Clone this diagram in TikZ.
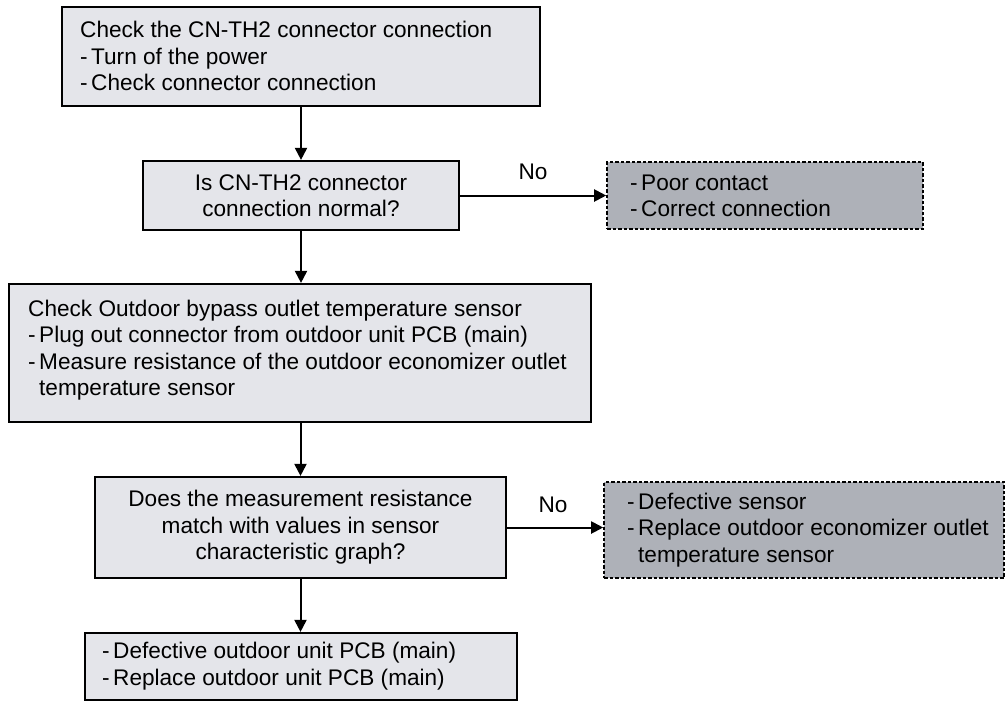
\documentclass[tikz,border=0pt]{standalone}
\usepackage{fontspec}
\setmainfont{Liberation Sans}
\usetikzlibrary{arrows.meta}
\definecolor{lightfill}{RGB}{228,229,234}
\definecolor{darkfill}{RGB}{174,177,184}
\newcommand{\dsh}{\makebox[11pt][l]{-}}
\newcommand{\ind}{\hspace*{11pt}}
\tikzset{
  base/.style={draw=black, line width=2.2pt, inner sep=0pt, font=\fontsize{22.6}{26.5}\selectfont},
  procbox/.style={base, fill=lightfill},
  resultbox/.style={base, fill=darkfill, line width=1.6pt, dash pattern=on 3.5pt off 2pt},
  arr/.style={line width=2pt, -{Triangle[length=12pt,width=12pt]}},
  lbl/.style={font=\fontsize{22.6}{26.5}\selectfont, inner sep=0pt}
}
\begin{document}
\begin{tikzpicture}[x=1pt,y=-1pt]
\useasboundingbox (0,0) rectangle (1008,702);
\node[procbox, minimum width=478pt, minimum height=99pt] (b1) at (301,56.5) {};
\node[lbl, align=left, anchor=west] (t1) at (80,56) {Check the CN-TH2 connector connection\\\dsh Turn of the power\\\dsh Check connector connection};
\node[procbox, minimum width=316pt, minimum height=69pt, align=center] (b2) at (301,195.5) {Is CN-TH2 connector\\connection normal?};
\node[resultbox, minimum width=316pt, minimum height=67pt] (b3) at (765,195.5) {};
\node[lbl, align=left, anchor=west] (t3) at (630,196) {\dsh Poor contact\\\dsh Correct connection};
\node[procbox, minimum width=582pt, minimum height=138pt] (b4) at (300,353) {};
\node[lbl, align=left, anchor=west] (t4) at (28,350) {Check Outdoor bypass outlet temperature sensor\\\dsh Plug out connector from outdoor unit PCB (main)\\\dsh Measure resistance of the outdoor economizer outlet\\\ind temperature sensor};
\node[procbox, minimum width=411pt, minimum height=101pt, align=center] (b5) at (300.5,527.5) {Does the measurement resistance\\match with values in sensor\\characteristic graph?};
\node[resultbox, minimum width=400pt, minimum height=96pt] (b7) at (804,530) {};
\node[lbl, align=left, anchor=west] (t7) at (627,530) {\dsh Defective sensor\\\dsh Replace outdoor economizer outlet\\\ind temperature sensor};
\node[procbox, minimum width=432pt, minimum height=67pt] (b6) at (301,666.5) {};
\node[lbl, align=left, anchor=west] (t6) at (102,666) {\dsh Defective outdoor unit PCB (main)\\\dsh Replace outdoor unit PCB (main)};
\draw[arr] (b1.south) -- (b2.north);
\draw[arr] (b2.south) -- (b4.north -| b2.south);
\draw[arr] (b4.south -| b5.north) -- (b5.north);
\draw[arr] (b5.south) -- (b6.north -| b5.south);
\draw[arr] (b2.east) -- (b3.west);
\draw[arr] (b5.east) -- (b7.west |- b5.east);
\node[lbl] (no1) at (533,172) {No};
\node[lbl] (no2) at (553,505) {No};
\end{tikzpicture}
\end{document}
